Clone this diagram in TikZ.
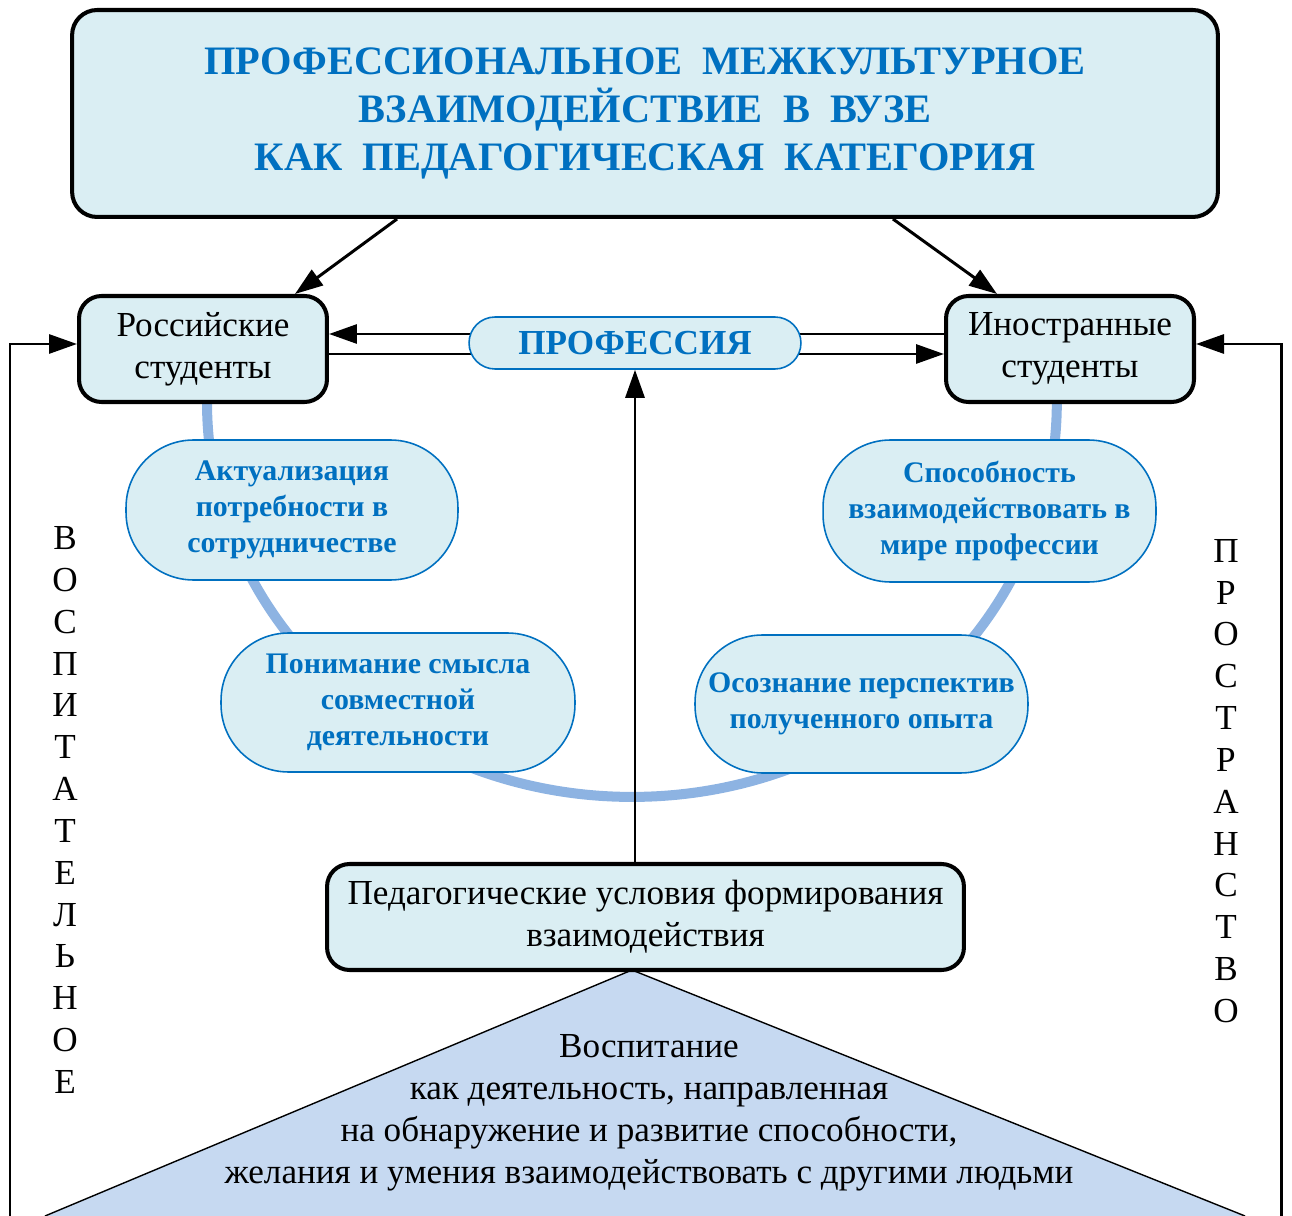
\documentclass[tikz,border=0pt]{standalone}
\usepackage{fontspec}
\setmainfont{Liberation Serif}
\usetikzlibrary{arrows.meta,backgrounds,shapes}

\definecolor{boxfill}{HTML}{DAEEF3}
\definecolor{headblue}{HTML}{0070C0}
\definecolor{arcblue}{HTML}{8DB3E2}
\definecolor{trifill}{HTML}{C6D9F1}

\tikzset{
  mainbox/.style={draw=black, line width=2.3pt, fill=boxfill, rounded corners=0.45cm, align=center, font=\fontsize{20}{23.8}\selectfont},
  stage/.style={draw=headblue, line width=0.9pt, fill=boxfill, rounded corners=1.35cm, align=center, text=headblue, font=\bfseries\fontsize{17}{20.5}\selectfont},
  arr/.style={line width=1.7pt, -{Triangle[length=0.56cm,width=0.38cm]}},
  letters/.style={align=center, font=\fontsize{20}{23.8}\selectfont},
}

\begin{document}
\begin{tikzpicture}[x=0.02cm, y=-0.02cm]
\useasboundingbox (0,0) rectangle (1292,1216);

\coordinate (apex) at (632,970);
\coordinate (tl) at (45,1216);
\coordinate (tr) at (1245,1216);
\coordinate (lb) at (10,1216);
\coordinate (rb) at (1281,1216);

\fill[trifill] (tl) -- (apex) -- (tr) -- cycle;
\draw[line width=0.8pt] (tl) -- (apex) -- (tr);
\node[letters] (vosp) at (649,1113) {Воспитание\\как деятельность, направленная\\на обнаружение и развитие способности,\\желания и умения взаимодействовать с другими людьми};

\draw[arcblue, line width=5.7pt] (207,402) arc[start angle=180, end angle=360, x radius=8.5cm, y radius=7.9cm];

\node[mainbox, text=headblue, rounded corners=0.5cm, minimum width=22.92cm, minimum height=4.14cm, font=\bfseries\fontsize{23}{27.2}\selectfont] (head) at (645,113.5)
  {ПРОФЕССИОНАЛЬНОЕ\ \ МЕЖКУЛЬТУРНОЕ\\ВЗАИМОДЕЙСТВИЕ\ \ В\ \ ВУЗЕ\\КАК\ \ ПЕДАГОГИЧЕСКАЯ\ \ КАТЕГОРИЯ};
\node[mainbox, minimum width=4.96cm, minimum height=2.12cm] (rus) at (203,349) {Российские\\студенты};
\node[mainbox, minimum width=4.96cm, minimum height=2.12cm] (for) at (1070,349) {Иностранные\\студенты};
\node[stage, rounded corners=0.52cm, minimum width=6.64cm, minimum height=1.04cm, font=\bfseries\fontsize{20}{24}\selectfont] (prof) at (635,343) {ПРОФЕССИЯ};
\node[mainbox, minimum width=12.74cm, minimum height=2.12cm] (ped) at (645.5,917) {Педагогические условия формирования\\взаимодействия};

\node[stage, minimum width=6.64cm, minimum height=2.8cm] (akt) at (292,510) {Актуализация\\потребности в\\сотрудничестве};
\node[stage, minimum width=7.08cm, minimum height=2.78cm] (pon) at (398,702.5) {Понимание смысла\\совместной\\деятельности};
\node[stage, minimum width=6.66cm, minimum height=2.84cm] (spo) at (989.5,511) {Способность\\взаимодействовать в\\мире профессии};
\node[stage, minimum width=6.66cm, minimum height=2.76cm] (oso) at (861.5,704) {Осознание перспектив\\полученного опыта};

\node[letters] (left) at (65,810) {В\\О\\С\\П\\И\\Т\\А\\Т\\Е\\Л\\Ь\\Н\\О\\Е};
\node[letters] (right) at (1226,781) {П\\Р\\О\\С\\Т\\Р\\А\\Н\\С\\Т\\В\\О};

\draw[arr] ([xshift=-4.96cm]head.south) -- ([xshift=1.84cm]rus.north);
\draw[arr] ([xshift=4.96cm]head.south) -- ([xshift=-1.46cm]for.north);
\draw[arr] (ped.north -| prof.south) -- (prof.south);
\draw[arr] (lb) |- ([yshift=0.1cm]rus.west);
\draw[arr] (rb) |- ([yshift=0.1cm]for.east);

\begin{scope}[on background layer]
\draw[arr] ([yshift=0.3cm]for.west) -- ([yshift=0.3cm]rus.east);
\draw[arr] ([yshift=-0.1cm]rus.east) -- ([yshift=-0.1cm]for.west);
\end{scope}
\end{tikzpicture}
\end{document}
